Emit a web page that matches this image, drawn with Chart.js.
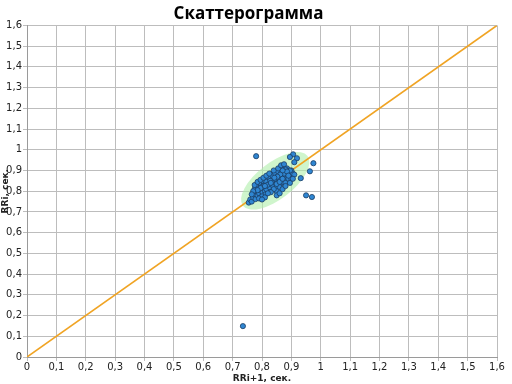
<html>
<head>
    <title>Скаттерограмма</title>
    <script src="https://cdn.jsdelivr.net/npm/chart.js"></script>
    <style>
        body { margin: 0; background: white; }
        #wrap { width: 512px; height: 384px; }
    </style>
</head>
<body>
    <div id="wrap"><canvas id="scatterChart" width="512" height="384"></canvas></div>
    <script>
        // RRi+1 (x) и RRi (y), сек.
        const rriNext = [
            0.755, 0.76, 0.765, 0.77, 0.772, 0.778, 0.78, 0.775, 0.785, 0.79,
            0.788, 0.792, 0.795, 0.798, 0.8, 0.802, 0.805, 0.808, 0.81, 0.812,
            0.815, 0.818, 0.82, 0.822, 0.825, 0.828, 0.83, 0.832, 0.835, 0.838,
            0.84, 0.842, 0.845, 0.848, 0.85, 0.852, 0.855, 0.858, 0.86, 0.862,
            0.865, 0.868, 0.87, 0.872, 0.875, 0.878, 0.88, 0.882, 0.885, 0.888,
            0.89, 0.892, 0.895, 0.898, 0.9, 0.905, 0.87, 0.86, 0.85, 0.84,
            0.83, 0.82, 0.81, 0.8, 0.79, 0.78, 0.8, 0.815, 0.825, 0.835,
            0.845, 0.855, 0.865, 0.875, 0.885, 0.86, 0.85, 0.84, 0.83, 0.87,
            0.88, 0.89, 0.9, 0.91, 0.895, 0.88, 0.865, 0.835, 0.825, 0.815,
            0.805, 0.795, 0.785, 0.79, 0.81, 0.82, 0.845, 0.855, 0.875, 0.885,
            0.89, 0.87, 0.862, 0.852, 0.842, 0.828, 0.818,
            0.775, 0.785, 0.795, 0.805, 0.815, 0.825, 0.84, 0.855, 0.865, 0.875,
            0.85, 0.86, 0.87, 0.88, 0.895, 0.905, 0.77, 0.765, 0.8, 0.81,
            0.83, 0.85, 0.86, 0.87,
            0.78, 0.906, 0.919, 0.895, 0.975, 0.963, 0.932, 0.95, 0.97, 0.735, 0.91
        ];
        const rri = [
            0.745, 0.76, 0.75, 0.77, 0.785, 0.762, 0.8, 0.81, 0.78, 0.79,
            0.82, 0.805, 0.77, 0.83, 0.81, 0.795, 0.84, 0.82, 0.8, 0.785,
            0.83, 0.85, 0.815, 0.84, 0.8, 0.86, 0.825, 0.845, 0.87, 0.81,
            0.855, 0.835, 0.875, 0.82, 0.86, 0.845, 0.88, 0.83, 0.865, 0.85,
            0.89, 0.84, 0.875, 0.86, 0.9, 0.85, 0.88, 0.865, 0.91, 0.87,
            0.89, 0.855, 0.88, 0.87, 0.9, 0.885, 0.915, 0.9, 0.895, 0.885,
            0.875, 0.865, 0.855, 0.85, 0.84, 0.83, 0.775, 0.81, 0.82, 0.83,
            0.84, 0.85, 0.86, 0.87, 0.88, 0.82, 0.8, 0.81, 0.795, 0.845,
            0.84, 0.86, 0.86, 0.88, 0.9, 0.905, 0.875, 0.85, 0.835, 0.845,
            0.825, 0.815, 0.805, 0.765, 0.77, 0.79, 0.86, 0.865, 0.885, 0.895,
            0.875, 0.9, 0.88, 0.87, 0.865, 0.85, 0.83,
            0.83, 0.845, 0.855, 0.865, 0.875, 0.885, 0.9, 0.91, 0.925, 0.93,
            0.78, 0.79, 0.81, 0.825, 0.84, 0.86, 0.8, 0.785, 0.76, 0.825,
            0.84, 0.835, 0.845, 0.86,
            0.969, 0.978, 0.959, 0.965, 0.935, 0.896, 0.863, 0.78, 0.772, 0.149, 0.94
        ];

        // линия идентичности
        const lineX = [0, 1.6];
        const lineY = [0, 1.6];

        // эллипс: концы большой оси и полуширина (в единицах данных)
        const ellipseAxis = [[0.735, 0.73], [0.955, 0.97]];
        const ellipseHalfWidth = 0.062;

        const tickValues = [0, 0.1, 0.2, 0.3, 0.4, 0.5, 0.6, 0.7, 0.8, 0.9, 1, 1.1, 1.2, 1.3, 1.4, 1.5, 1.6];

        const pts = rriNext.map((x, i) => ({ x: x, y: rri[i] }));
        const linePts = lineX.map((x, i) => ({ x: x, y: lineY[i] }));

        function fmt(v) {
            return (Math.round(v * 10) / 10).toString().replace('.', ',');
        }

        const ellipsePlugin = {
            id: 'ellipse',
            beforeDatasetsDraw(chart) {
                const c = chart.ctx, xs = chart.scales.x, ys = chart.scales.y;
                const p1x = xs.getPixelForValue(ellipseAxis[0][0]), p1y = ys.getPixelForValue(ellipseAxis[0][1]);
                const p2x = xs.getPixelForValue(ellipseAxis[1][0]), p2y = ys.getPixelForValue(ellipseAxis[1][1]);
                const cx = (p1x + p2x) / 2, cy = (p1y + p2y) / 2;
                const a = Math.hypot(p2x - p1x, p2y - p1y) / 2;
                const b = xs.getPixelForValue(ellipseHalfWidth) - xs.getPixelForValue(0);
                const ang = Math.atan2(p2y - p1y, p2x - p1x);
                c.save();
                c.fillStyle = 'rgba(175, 238, 170, 0.6)';
                c.beginPath();
                c.ellipse(cx, cy, a, b, ang, 0, Math.PI * 2);
                c.fill();
                c.restore();
            }
        };

        const ctx = document.getElementById('scatterChart').getContext('2d');
        new Chart(ctx, {
            type: 'scatter',
            data: {
                datasets: [{
                    data: pts,
                    backgroundColor: '#2f86d2',
                    borderColor: '#1b3c62',
                    borderWidth: 0.8,
                    pointRadius: 2.6,
                    order: 0
                }, {
                    type: 'line',
                    data: linePts,
                    borderColor: '#f0a424',
                    borderWidth: 1.6,
                    pointRadius: 0,
                    fill: false,
                    order: 1
                }]
            },
            plugins: [ellipsePlugin],
            options: {
                responsive: false,
                animation: false,
                layout: { padding: { left: 0, right: 15, top: 0, bottom: 0 } },
                plugins: {
                    legend: { display: false },
                    tooltip: { enabled: false },
                    title: {
                        display: true,
                        text: 'Скаттерограмма',
                        color: '#000',
                        font: { family: 'Open Sans', size: 17, weight: 'bold' },
                        padding: { top: 4, bottom: 1 }
                    }
                },
                scales: {
                    x: {
                        type: 'linear',
                        min: 0, max: 1.6,
                        afterBuildTicks: s => { s.ticks = tickValues.map(v => ({ value: v })); },
                        afterFit: s => { s.height = 27; },
                        ticks: {
                            callback: v => fmt(v),
                            color: '#222',
                            font: { family: 'DejaVu Sans', size: 10 },
                            padding: 0,
                            maxRotation: 0,
                            autoSkip: false
                        },
                        grid: { color: '#bdbdbd', tickLength: 4 },
                        border: { color: '#9a9a9a' },
                        title: {
                            display: true,
                            text: 'RRi+1, сек.',
                            color: '#222',
                            font: { family: 'DejaVu Sans', size: 9, weight: 'bold' },
                            padding: 0
                        }
                    },
                    y: {
                        type: 'linear',
                        min: 0, max: 1.6,
                        afterBuildTicks: s => { s.ticks = tickValues.map(v => ({ value: v })); },
                        afterFit: s => { s.width = 27; },
                        ticks: {
                            callback: v => fmt(v),
                            color: '#222',
                            font: { family: 'DejaVu Sans', size: 10 },
                            padding: 1,
                            autoSkip: false
                        },
                        grid: { color: '#bdbdbd', tickLength: 4 },
                        border: { color: '#9a9a9a' },
                        title: {
                            display: true,
                            text: 'RRi, сек.',
                            color: '#222',
                            font: { family: 'DejaVu Sans', size: 9, weight: 'bold' },
                            padding: 0
                        }
                    }
                }
            }
        });
    </script>
</body>
</html>
